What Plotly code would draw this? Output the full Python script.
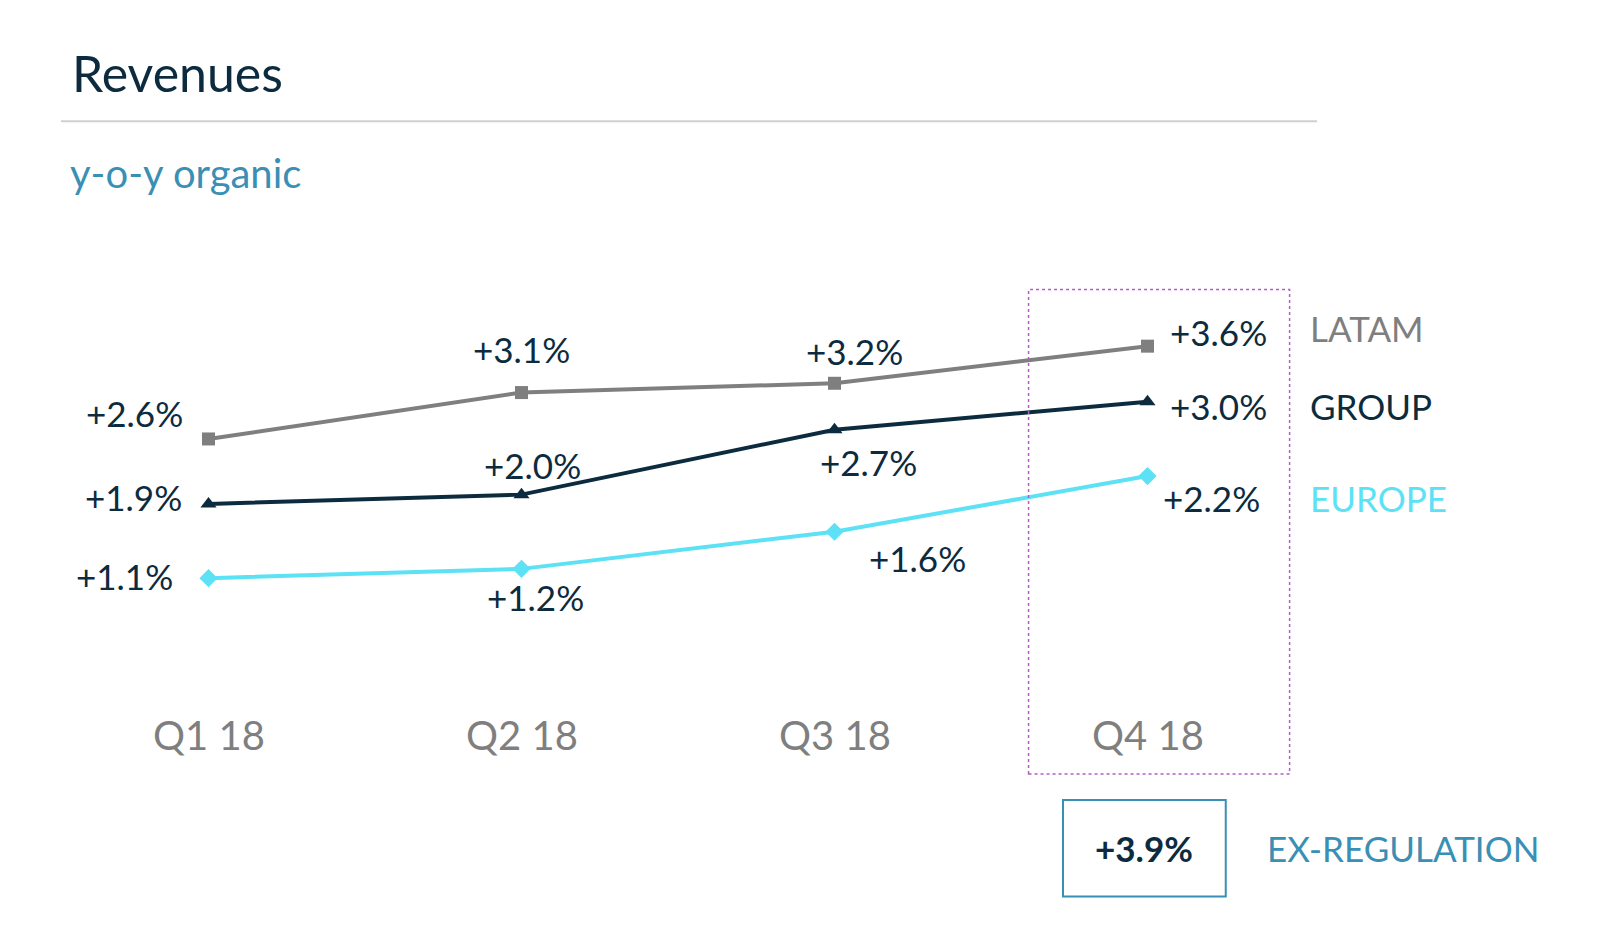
import plotly.graph_objects as go

quarters = ["Q1 18", "Q2 18", "Q3 18", "Q4 18"]
latam = [2.6, 3.1, 3.2, 3.6]
group = [1.9, 2.0, 2.7, 3.0]
europe = [1.1, 1.2, 1.6, 2.2]
ex_regulation = 3.9

NAVY = "#0d2b3e"
GRAY = "#7f7f7f"
CYAN = "#5ce1f5"
TEAL = "#3a8fb5"
FONT = "Lato"

xs = list(range(len(quarters)))

fig = go.Figure()
series = [
    ("LATAM", latam, GRAY, "square", 13, GRAY),
    ("GROUP", group, NAVY, "triangle-up", 14, NAVY),
    ("EUROPE", europe, CYAN, "diamond", 14, CYAN),
]
for name, vals, col, sym, ms, _ in series:
    fig.add_trace(go.Scatter(x=xs, y=vals, mode="lines+markers", name=name,
                             line=dict(color=col, width=4),
                             marker=dict(symbol=sym, size=ms, color=col),
                             showlegend=False, cliponaxis=False))

# label offsets (px) for each point
offsets = {
    "LATAM": [(-74, 26), (0, 44), (20, 32), (71, 14)],
    "GROUP": [(-75, 7), (11, 30), (34, -32), (71, -4)],
    "EUROPE": [(-84, 2), (14, -28), (83, -26), (64, -22)],
}
ann = []
for name, vals, col, sym, ms, lc in series:
    for i, v in enumerate(vals):
        dx, dy = offsets[name][i]
        ann.append(dict(x=xs[i], y=v, text=f"+{v:.1f}%", showarrow=False,
                        xshift=dx, yshift=dy,
                        font=dict(family=FONT, size=35, color=NAVY)))
    ann.append(dict(x=3, y=vals[-1], text=name, showarrow=False, xanchor="left",
                    xshift=160, yshift={"LATAM": 18, "GROUP": -4, "EUROPE": -22}[name],
                    font=dict(family=FONT, size=35, color=lc)))

for i, q in enumerate(quarters):
    ann.append(dict(x=xs[i], y=-0.59, text=q, showarrow=False,
                    font=dict(family=FONT, size=40, color=GRAY)))

ann += [
    dict(x=2.99, y=-1.81, text=f"<b>+{ex_regulation:.1f}%</b>", showarrow=False,
         font=dict(family=FONT, size=35, color=NAVY)),
    dict(x=3.375, y=-1.81, text="EX-REGULATION", showarrow=False, xanchor="left",
         font=dict(family=FONT, size=35, color=TEAL)),
    dict(xref="paper", yref="paper", x=0.0144, y=1.276, xanchor="left", yanchor="middle",
         text="Revenues", showarrow=False, font=dict(family=FONT, size=50, color=NAVY)),
    dict(xref="paper", yref="paper", x=0.0128, y=1.127, xanchor="left", yanchor="middle",
         text="y-o-y organic", showarrow=False, font=dict(family=FONT, size=40, color=TEAL)),
]

shapes = [
    dict(type="rect", x0=2.62, x1=3.454, y0=-1.01, y1=4.21,
         line=dict(color="#b45cc8", width=1.5, dash="dot")),
    dict(type="rect", x0=2.73, x1=3.25, y0=-2.33, y1=-1.29,
         line=dict(color=TEAL, width=2)),
    dict(type="line", xref="paper", yref="paper", x0=0.0072, x1=1.0104, y0=1.204, y1=1.204,
         line=dict(color="#d0d0d0", width=2)),
]

fig.update_layout(
    width=1600, height=945, margin=dict(l=44, r=304, t=250, b=25),
    paper_bgcolor="white", plot_bgcolor="white",
    xaxis=dict(range=[-0.5, 3.5], visible=False),
    yaxis=dict(range=[-2.67, 4.55], visible=False),
    annotations=ann, shapes=shapes,
)

fig.write_html("out.html")
